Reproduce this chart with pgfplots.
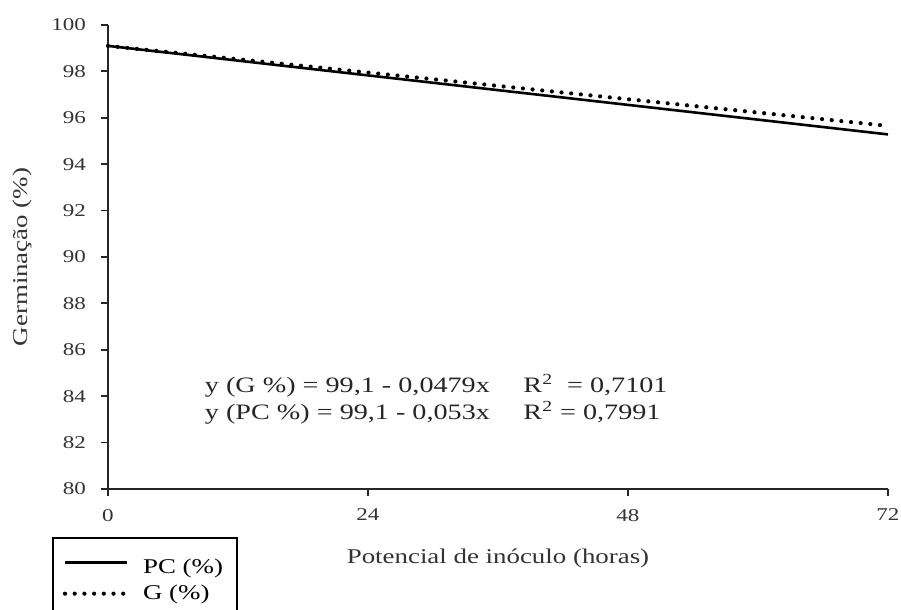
\documentclass[border=0pt]{standalone}
\usepackage{fontspec}
\setmainfont{Liberation Serif}[FakeStretch=1.28]
\usepackage{pgfplots}
\pgfplotsset{compat=1.18}
\begin{document}
\begin{tikzpicture}
\begin{axis}[
  at={(0,0)}, anchor=south west,
  scale only axis, width=390pt, height=232pt,
  xmin=0, xmax=72, ymin=80, ymax=100,
  axis x line*=bottom, axis y line*=left,
  axis line style={line width=0.9pt, black!85},
  xtick={0,24,48,72}, ytick={80,82,...,100},
  tick align=outside, major tick length=3.5pt,
  tick style={line width=0.9pt, black!85},
  /pgf/number format/assume math mode=true,
  ticklabel style={font=\fontsize{9}{10}\selectfont, text=black!80},
  xticklabel style={yshift=-3pt},
  yticklabel style={xshift=-4pt},
  xlabel={Potencial de inóculo (horas)},
  ylabel={Germinação (\%)},
  label style={font=\fontsize{10.5}{12}\selectfont, text=black!80},
  xlabel style={at={(axis description cs:0.5,-0.149)}, anchor=center},
  ylabel style={at={(axis description cs:-0.11,0.5)}, anchor=center},
  legend style={at={(axis description cs:-0.0718,-0.1034)}, anchor=north west,
    draw=black, line width=0.9pt, font=\fontsize{10.5}{12}\selectfont,
    inner xsep=5pt, inner ysep=3pt, row sep=0pt, column sep=5pt},
  legend cell align=left,
  legend image code/.code={\draw[#1] (0pt,0pt) -- (31pt,0pt);},
  clip=false,
]
\addplot[black, line width=1.3pt] coordinates {(0,99.1) (72,95.284)};
\addlegendentry{\rule{0pt}{13pt}PC (\%)}
\addplot[black, line width=2.1pt, line cap=round, dash pattern=on 0pt off 4.85pt] coordinates {(0,99.1) (72,95.651)};
\addlegendentry{G (\%)\rule[-18pt]{0pt}{0pt}}
\node[anchor=base west, font=\fontsize{11}{12}\selectfont, text=black!85] at (axis cs:8.3,84.16) {y (G \%) = 99,1 - 0,0479x};
\node[anchor=base west, font=\fontsize{11}{12}\selectfont, text=black!85] at (axis cs:8.3,82.99) {y (PC \%) = 99,1 - 0,053x};
\node[anchor=base west, font=\fontsize{11}{12}\selectfont, text=black!85] at (axis cs:37.7,84.16) {R\textsuperscript{2}\ \ = 0,7101};
\node[anchor=base west, font=\fontsize{11}{12}\selectfont, text=black!85] at (axis cs:37.7,82.99) {R\textsuperscript{2} = 0,7991};
\end{axis}
\pgfresetboundingbox
\useasboundingbox (-54pt,-60.5pt) rectangle (396.5pt,244.5pt);
\end{tikzpicture}
\end{document}
